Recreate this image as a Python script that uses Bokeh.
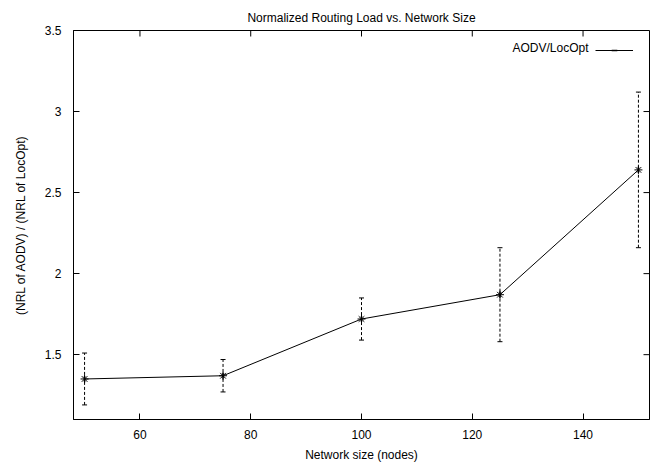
import math
from bokeh.plotting import figure
from bokeh.models import (ColumnDataSource, Whisker, TeeHead, FixedTicker,
                          CustomJSTickFormatter, Legend, LegendItem, Label, Range1d)
from bokeh.core.properties import value
from bokeh.embed import file_html
from bokeh.resources import INLINE

# ---- data ----
network_size = [50, 75, 100, 125, 150]
nrl_ratio = [1.35, 1.37, 1.72, 1.87, 2.64]
ratio_upper = [1.51, 1.47, 1.85, 2.16, 3.12]
ratio_lower = [1.19, 1.27, 1.59, 1.58, 2.16]
x_ticks = [60, 80, 100, 120, 140]
y_ticks = [1.5, 2, 2.5, 3, 3.5]
series_name = "AODV/LocOpt"

FONT = "Liberation Sans"
X0, X1 = 48, 152
Y0, Y1 = 1.1, 3.5
W, H = 657, 464
ML, MR, MT, MB = 73, 8, 30, 45
TICK = 6  # px

src = ColumnDataSource(dict(x=network_size, y=nrl_ratio, up=ratio_upper, lo=ratio_lower))

p = figure(width=W, height=H, output_backend="svg", toolbar_location=None,
           x_range=Range1d(X0, X1), y_range=Range1d(Y0, Y1),
           min_border_left=ML, min_border_right=MR, min_border_top=MT, min_border_bottom=MB)

p.title.text = "Normalized Routing Load vs. Network Size"
p.title.align = "center"
p.title.text_font = FONT
p.title.text_font_size = "12px"
p.title.text_font_style = "normal"
p.title.text_color = "black"
p.title.standoff = 12

p.xgrid.visible = False
p.ygrid.visible = False
p.outline_line_color = "black"
p.outline_line_width = 1
p.background_fill_color = "white"
p.border_fill_color = "white"

fmt = CustomJSTickFormatter(code="return tick.toString();")

def style_axis(ax, ticks):
    ax.ticker = FixedTicker(ticks=ticks)
    ax.major_tick_in = TICK
    ax.major_tick_out = 0
    ax.minor_tick_line_color = None
    ax.axis_line_color = "black"
    ax.major_tick_line_color = "black"
    ax.major_tick_line_width = 1
    ax.major_label_text_font = FONT
    ax.major_label_text_color = "black"
    ax.major_label_text_font_size = "12px"
    ax.formatter = fmt
    ax.axis_label_text_font = FONT
    ax.axis_label_text_font_size = "12px"
    ax.axis_label_text_font_style = "normal"
    ax.axis_label_text_color = "black"

xa = p.xaxis[0]
style_axis(xa, x_ticks)
xa.axis_label = "Network size (nodes)"
xa.major_label_standoff = 10
xa.axis_label_standoff = 6

ya = p.yaxis[0]
style_axis(ya, y_ticks)
ya.axis_label = "(NRL of AODV) / (NRL of LocOpt)"
ya.major_label_standoff = 12
ya.axis_label_standoff = 14

# mirror ticks on top and right edges (inward)
frame_w = W - ML - MR
frame_h = H - MT - MB
dy = TICK * (Y1 - Y0) / frame_h
dx = TICK * (X1 - X0) / frame_w
top_src = ColumnDataSource(dict(x=x_ticks, ya=[Y1] * len(x_ticks), yb=[Y1 - dy] * len(x_ticks)))
right_src = ColumnDataSource(dict(y=y_ticks, xa=[X1] * len(y_ticks), xb=[X1 - dx] * len(y_ticks)))
p.segment(x0="x", y0="ya", x1="x", y1="yb", source=top_src, line_color="black", line_width=1)
p.segment(x0="xa", y0="y", x1="xb", y1="y", source=right_src, line_color="black", line_width=1)

# error bars
wh = Whisker(source=src, base="x", upper="up", lower="lo", dimension="height",
             line_color="black", line_width=1, line_dash="3 2",
             upper_head=TeeHead(size=5, line_color="black", line_width=1),
             lower_head=TeeHead(size=5, line_color="black", line_width=1))
p.add_layout(wh)

line_r = p.line("x", "y", source=src, line_color="black", line_width=1)
tick_r = p.scatter("x", "y", source=src, marker="dash", angle=math.pi / 2, size=6,
                   line_color="black", line_width=1.5)
p.scatter("x", "y", source=src, marker="asterisk", size=8, line_color="black", line_width=1)

# legend: sample (line with small vertical tick), text on its left
legend = Legend(items=[LegendItem(label=value(""), renderers=[line_r, tick_r])],
                location=(522, 362), glyph_width=38, glyph_height=14,
                padding=0, margin=0, spacing=0, label_standoff=0, label_width=0,
                border_line_color=None, background_fill_alpha=0,
                label_text_font_size="12px")
p.add_layout(legend)
p.add_layout(Label(x=515, y=372, x_units="screen", y_units="screen", text=series_name,
                   text_align="right", text_baseline="middle", text_font=FONT,
                   text_font_size="12px", text_color="black"))

open("out.html", "w").write(file_html(p, INLINE))
